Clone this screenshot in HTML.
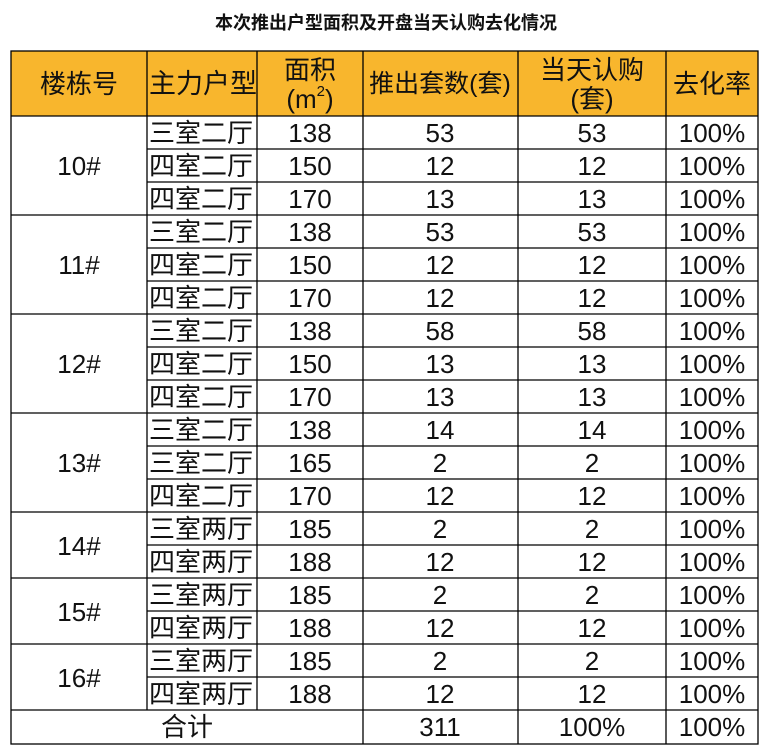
<!DOCTYPE html>
<html><head><meta charset="utf-8"><style>
html,body{margin:0;padding:0;background:#fff;}
svg{display:block;}
text{font-family:"Liberation Sans","Noto Sans CJK SC",sans-serif;fill:#111;}
.t{font-size:26px;text-anchor:middle;dominant-baseline:central;}
.l{font-size:26px;text-anchor:start;dominant-baseline:central;}
</style></head><body>
<svg width="772" height="752" viewBox="0 0 772 752" xmlns="http://www.w3.org/2000/svg">
<text x="386" y="22" style="font-family:'Noto Sans CJK SC',sans-serif;font-size:18px;font-weight:bold;text-anchor:middle;dominant-baseline:central">本次推出户型面积及开盘当天认购去化情况</text>
<rect x="11" y="51" width="747" height="65" fill="#F8B62D"/>
<g style="font-family:'Noto Sans CJK SC',sans-serif">
<text class="t" x="79" y="84">楼栋号</text>
<text class="l" x="149" y="84" style="font-size:27px">主力户型</text>
<text class="t" x="310" y="70">面积</text>
<text class="t" x="310" y="99">(m<tspan dy="-8" style="font-size:15px">2</tspan><tspan dy="8">)</tspan></text>
<text class="t" x="440" y="84" style="font-size:25px">推出套数(套)</text>
<text class="t" x="592" y="70">当天认购</text>
<text class="t" x="592" y="99">(套)</text>
<text class="t" x="712" y="84">去化率</text>
</g>
<g>
<text class="t" x="79" y="166">10#</text>
<text class="t" x="79" y="265">11#</text>
<text class="t" x="79" y="364">12#</text>
<text class="t" x="79" y="463">13#</text>
<text class="t" x="79" y="546">14#</text>
<text class="t" x="79" y="612">15#</text>
<text class="t" x="79" y="678">16#</text>
<text class="t" x="187" y="727">合计</text>
</g>
<g>
<text class="l" x="149" y="133">三室二厅</text>
<text class="l" x="149" y="166">四室二厅</text>
<text class="l" x="149" y="199">四室二厅</text>
<text class="l" x="149" y="232">三室二厅</text>
<text class="l" x="149" y="265">四室二厅</text>
<text class="l" x="149" y="298">四室二厅</text>
<text class="l" x="149" y="331">三室二厅</text>
<text class="l" x="149" y="364">四室二厅</text>
<text class="l" x="149" y="397">四室二厅</text>
<text class="l" x="149" y="430">三室二厅</text>
<text class="l" x="149" y="463">三室二厅</text>
<text class="l" x="149" y="496">四室二厅</text>
<text class="l" x="149" y="529">三室两厅</text>
<text class="l" x="149" y="562">四室两厅</text>
<text class="l" x="149" y="595">三室两厅</text>
<text class="l" x="149" y="628">四室两厅</text>
<text class="l" x="149" y="661">三室两厅</text>
<text class="l" x="149" y="694">四室两厅</text>
</g>
<g>
<text class="t" x="310" y="133">138</text><text class="t" x="440" y="133">53</text><text class="t" x="592" y="133">53</text><text class="t" x="712" y="133">100%</text>
<text class="t" x="310" y="166">150</text><text class="t" x="440" y="166">12</text><text class="t" x="592" y="166">12</text><text class="t" x="712" y="166">100%</text>
<text class="t" x="310" y="199">170</text><text class="t" x="440" y="199">13</text><text class="t" x="592" y="199">13</text><text class="t" x="712" y="199">100%</text>
<text class="t" x="310" y="232">138</text><text class="t" x="440" y="232">53</text><text class="t" x="592" y="232">53</text><text class="t" x="712" y="232">100%</text>
<text class="t" x="310" y="265">150</text><text class="t" x="440" y="265">12</text><text class="t" x="592" y="265">12</text><text class="t" x="712" y="265">100%</text>
<text class="t" x="310" y="298">170</text><text class="t" x="440" y="298">12</text><text class="t" x="592" y="298">12</text><text class="t" x="712" y="298">100%</text>
<text class="t" x="310" y="331">138</text><text class="t" x="440" y="331">58</text><text class="t" x="592" y="331">58</text><text class="t" x="712" y="331">100%</text>
<text class="t" x="310" y="364">150</text><text class="t" x="440" y="364">13</text><text class="t" x="592" y="364">13</text><text class="t" x="712" y="364">100%</text>
<text class="t" x="310" y="397">170</text><text class="t" x="440" y="397">13</text><text class="t" x="592" y="397">13</text><text class="t" x="712" y="397">100%</text>
<text class="t" x="310" y="430">138</text><text class="t" x="440" y="430">14</text><text class="t" x="592" y="430">14</text><text class="t" x="712" y="430">100%</text>
<text class="t" x="310" y="463">165</text><text class="t" x="440" y="463">2</text><text class="t" x="592" y="463">2</text><text class="t" x="712" y="463">100%</text>
<text class="t" x="310" y="496">170</text><text class="t" x="440" y="496">12</text><text class="t" x="592" y="496">12</text><text class="t" x="712" y="496">100%</text>
<text class="t" x="310" y="529">185</text><text class="t" x="440" y="529">2</text><text class="t" x="592" y="529">2</text><text class="t" x="712" y="529">100%</text>
<text class="t" x="310" y="562">188</text><text class="t" x="440" y="562">12</text><text class="t" x="592" y="562">12</text><text class="t" x="712" y="562">100%</text>
<text class="t" x="310" y="595">185</text><text class="t" x="440" y="595">2</text><text class="t" x="592" y="595">2</text><text class="t" x="712" y="595">100%</text>
<text class="t" x="310" y="628">188</text><text class="t" x="440" y="628">12</text><text class="t" x="592" y="628">12</text><text class="t" x="712" y="628">100%</text>
<text class="t" x="310" y="661">185</text><text class="t" x="440" y="661">2</text><text class="t" x="592" y="661">2</text><text class="t" x="712" y="661">100%</text>
<text class="t" x="310" y="694">188</text><text class="t" x="440" y="694">12</text><text class="t" x="592" y="694">12</text><text class="t" x="712" y="694">100%</text>
<text class="t" x="440" y="727">311</text><text class="t" x="592" y="727">100%</text><text class="t" x="712" y="727">100%</text>
</g>
<g stroke="#000" stroke-width="1.3" fill="none">
<rect x="11" y="51" width="747" height="693"/>
<line x1="11" y1="116" x2="758" y2="116"/>
<path d="M147 149H758M147 182H758M147 248H758M147 281H758M147 347H758M147 380H758M147 446H758M147 479H758M147 545H758M147 611H758M147 677H758"/>
<path d="M11 215H758M11 314H758M11 413H758M11 512H758M11 578H758M11 644H758M11 710H758"/>
<path d="M147 51V710M257 51V710M363 51V744M518 51V744M666 51V744"/>
</g>
</svg>
</body></html>
